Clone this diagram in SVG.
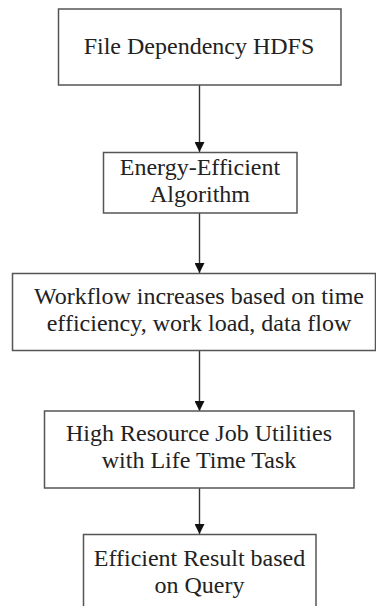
<svg xmlns="http://www.w3.org/2000/svg" width="376" height="606" viewBox="0 0 376 606" font-family="Liberation Serif">
  <style>
    .box { fill: #ffffff; stroke: #555555; stroke-width: 1.5; }
    .label { font-size: 24px; fill: #222222; text-anchor: middle; }
    .edge { stroke: #333333; stroke-width: 1.4; fill: none; }
  </style>
  <defs>
    <marker id="arrow" viewBox="0 0 10 10" refX="10" refY="5" markerWidth="10" markerHeight="10" markerUnits="userSpaceOnUse" orient="auto">
      <path d="M0,0 L10,5 L0,10 Z" fill="#111111"/>
    </marker>
  </defs>
  <rect width="376" height="606" fill="#ffffff"/>

  <!-- vertical flow arrows between consecutive steps -->
  <g id="connectors">
    <line class="edge" x1="199.5" y1="85" x2="199.5" y2="152" marker-end="url(#arrow)"/>
    <line class="edge" x1="199.5" y1="213" x2="199.5" y2="273" marker-end="url(#arrow)"/>
    <line class="edge" x1="199.5" y1="350" x2="199.5" y2="411" marker-end="url(#arrow)"/>
    <line class="edge" x1="199.5" y1="488" x2="199.5" y2="534" marker-end="url(#arrow)"/>
  </g>

  <g id="file-dependency">
    <rect class="box" x="58.5" y="9" width="282.5" height="76"/>
    <text class="label" x="199" y="53.5">File Dependency HDFS</text>
  </g>

  <g id="energy-efficient">
    <rect class="box" x="103.5" y="152.5" width="193.5" height="60.5"/>
    <text class="label" x="200" y="174.5">Energy-Efficient</text>
    <text class="label" x="200" y="202">Algorithm</text>
  </g>

  <g id="workflow">
    <rect class="box" x="12.5" y="273.5" width="363" height="77"/>
    <text class="label" x="199" y="303.5">Workflow increases based on time</text>
    <text class="label" x="199" y="330.5">efficiency, work load, data flow</text>
  </g>

  <g id="high-resource">
    <rect class="box" x="44.5" y="411" width="309.5" height="77"/>
    <text class="label" x="199" y="440.5">High Resource Job Utilities</text>
    <text class="label" x="199" y="468">with Life Time Task</text>
  </g>

  <g id="efficient-result">
    <rect class="box" x="83.5" y="534.5" width="232.5" height="80"/>
    <text class="label" x="199.5" y="565.5">Efficient Result based</text>
    <text class="label" x="199.5" y="592.5">on Query</text>
  </g>
</svg>
